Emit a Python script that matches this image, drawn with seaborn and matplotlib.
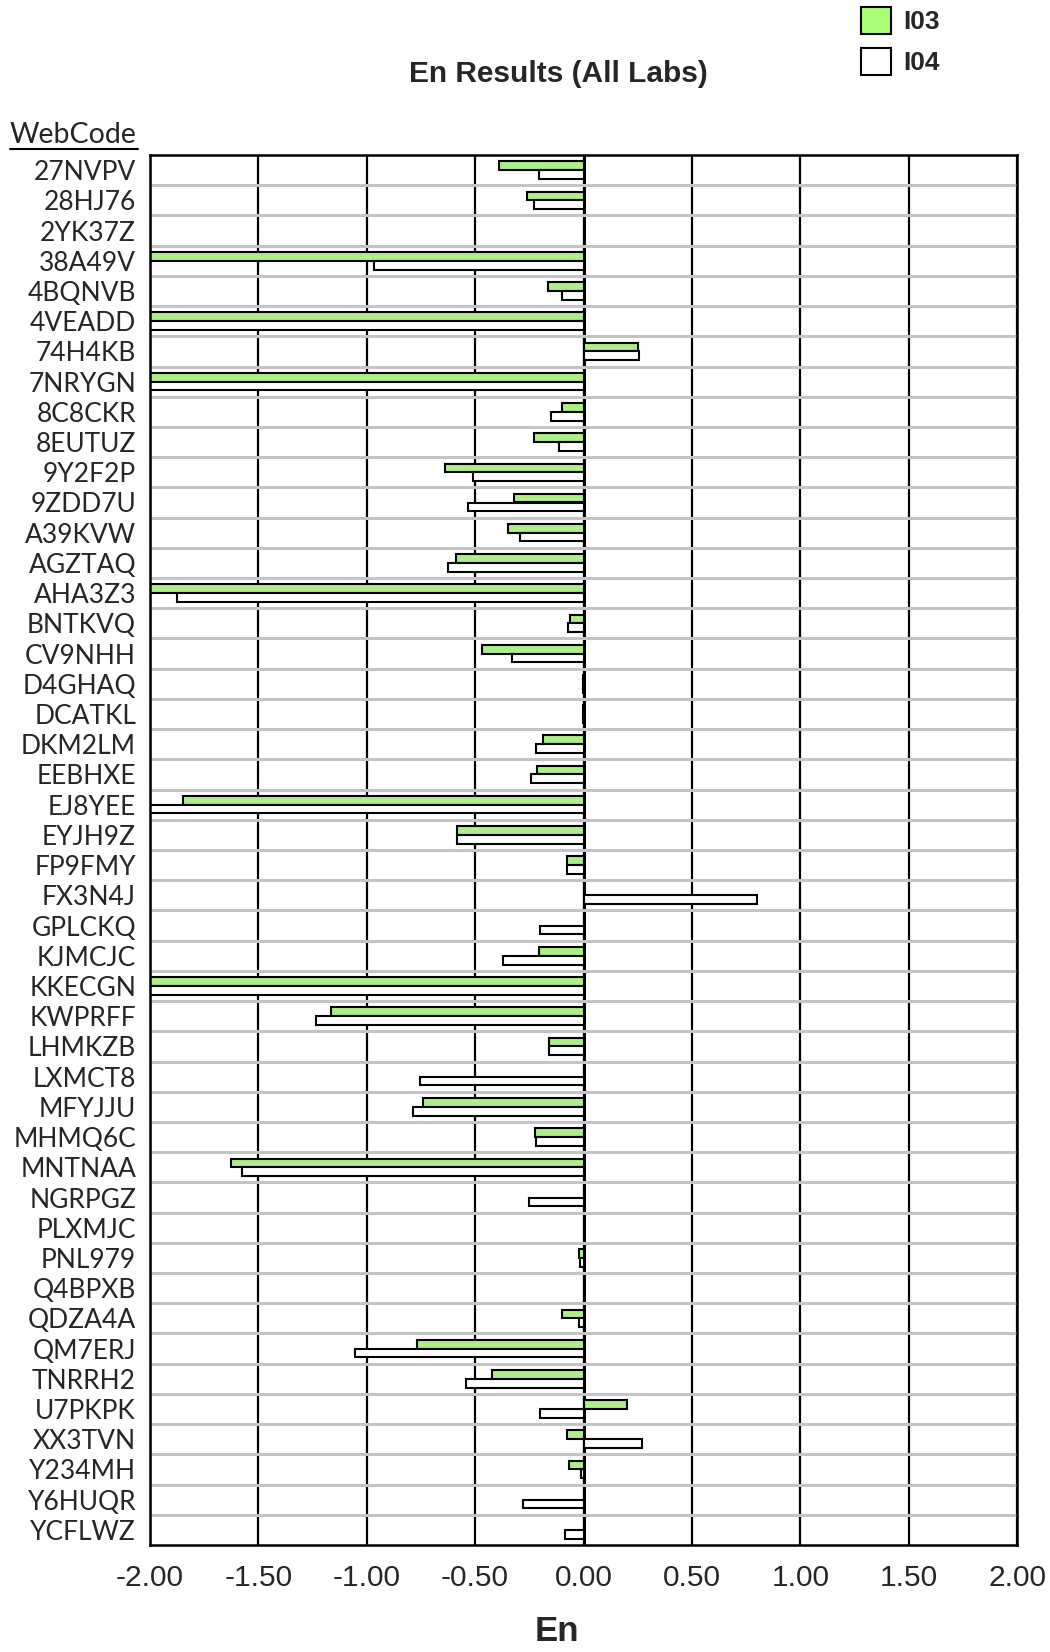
import pandas as pd
import matplotlib
matplotlib.use("Agg")
import matplotlib.pyplot as plt
from matplotlib.patches import Patch
from matplotlib.lines import Line2D
import seaborn as sns

# codes dos laboratórios (ordem do gráfico, de cima para baixo)
webcodes = ["27NVPV", "28HJ76", "2YK37Z", "38A49V", "4BQNVB", "4VEADD", "74H4KB",
            "7NRYGN", "8C8CKR", "8EUTUZ", "9Y2F2P", "9ZDD7U", "A39KVW", "AGZTAQ",
            "AHA3Z3", "BNTKVQ", "CV9NHH", "D4GHAQ", "DCATKL", "DKM2LM", "EEBHXE",
            "EJ8YEE", "EYJH9Z", "FP9FMY", "FX3N4J", "GPLCKQ", "KJMCJC", "KKECGN",
            "KWPRFF", "LHMKZB", "LXMCT8", "MFYJJU", "MHMQ6C", "MNTNAA", "NGRPGZ",
            "PLXMJC", "PNL979", "Q4BPXB", "QDZA4A", "QM7ERJ", "TNRRH2", "U7PKPK",
            "XX3TVN", "Y234MH", "Y6HUQR", "YCFLWZ"]

# valores En (None = sem resultado); valores < -2 ficam cortados no eixo
en_i03 = [-0.39, -0.26, None, -2.8, -0.165, -3.2, 0.25,
          -3.0, -0.10, -0.23, -0.64, -0.32, -0.35, -0.59,
          -2.6, -0.062, -0.47, -0.004, -0.004, -0.185, -0.215,
          -1.85, -0.585, -0.078, None, None, -0.205, -3.1,
          -1.165, -0.157, None, -0.74, -0.225, -1.625, None,
          None, -0.02, None, -0.10, -0.77, -0.42, 0.20,
          -0.078, -0.065, None, None]
en_i04 = [-0.205, -0.23, None, -0.965, -0.10, -3.0, 0.257,
          -2.9, -0.148, -0.112, -0.51, -0.535, -0.295, -0.625,
          -1.875, -0.073, -0.33, -0.004, -0.004, -0.22, -0.24,
          -2.3, -0.585, -0.078, 0.80, -0.20, -0.37, -2.7,
          -1.235, -0.16, -0.755, -0.785, -0.218, -1.575, -0.25,
          None, -0.015, None, -0.02, -1.055, -0.54, -0.20,
          0.268, -0.013, -0.28, -0.085]

xticks = [-2.0, -1.5, -1.0, -0.5, 0.0, 0.5, 1.0, 1.5, 2.0]

df = pd.DataFrame({"WebCode": webcodes * 2,
                   "En": en_i03 + en_i04,
                   "Round": ["I03"] * len(webcodes) + ["I04"] * len(webcodes)})

green = "#aaff77"
palette = {"I03": green, "I04": "white"}

sns.set_style("white")
plt.rcParams["font.family"] = ["Liberation Sans", "DejaVu Sans"]

fig = plt.figure(figsize=(10.5, 16.52), dpi=100)
ax = fig.add_axes([150 / 1050, 1 - 1545 / 1652, 867 / 1050, 1390 / 1652])

sns.barplot(data=df, x="En", y="WebCode", hue="Round", order=webcodes,
            hue_order=["I03", "I04"], palette=palette, orient="h",
            width=0.58, gap=0, edgecolor="black", linewidth=1.5,
            legend=False, ax=ax)

ax.set_xlim(-2, 2)
ax.set_ylim(len(webcodes) - 0.5, -0.5)
ax.set_xticks(xticks)
ax.set_xticklabels([f"{t:.2f}" for t in xticks], fontsize=21.5)
ax.set_yticks(range(len(webcodes)))
ax.set_yticklabels(webcodes, fontsize=19, family=["Lato", "DejaVu Sans"])
ax.set_yticks([i + 0.5 for i in range(len(webcodes) - 1)], minor=True)
ax.tick_params(axis="both", which="both", length=0)
ax.tick_params(axis="x", pad=14)
ax.tick_params(axis="y", pad=10)
ax.set_xlabel("")
ax.set_ylabel("")

# grades: verticais pretas, horizontais cinza entre categorias
ax.xaxis.grid(True, color="black", linewidth=1.6)
ax.yaxis.grid(True, which="minor", color="#c4c4c4", linewidth=2.2)
ax.yaxis.grid(False, which="major")
ax.set_axisbelow(True)
ax.axvline(0, color="black", linewidth=2.2, zorder=0.5)
for s in ax.spines.values():
    s.set_color("black")
    s.set_linewidth(1.8)

fig.text(558 / 1050, 1 - 74 / 1652, "En Results (All Labs)", fontsize=21.5,
         fontweight="bold", ha="center", va="center")
fig.text(557 / 1050, 1 - 1641 / 1652, "En", fontsize=25,
         fontweight="bold", ha="center", va="baseline")
fig.text(10 / 1050, 1 - 135 / 1652, "WebCode", fontsize=20.5,
         family=["Lato", "DejaVu Sans"], ha="left", va="center")
fig.add_artist(Line2D([10 / 1050, 138 / 1050], [1 - 149 / 1652, 1 - 149 / 1652],
                      color="black", linewidth=1.5))

handles = [Patch(facecolor=green, edgecolor="black", linewidth=1.5, label="I03"),
           Patch(facecolor="white", edgecolor="black", linewidth=1.5, label="I04")]
fig.legend(handles=handles, loc="upper left", bbox_to_anchor=(861 / 1050, 1 - 7 / 1652),
           frameon=False, borderpad=0, borderaxespad=0, handlelength=1.15,
           handleheight=1.2, labelspacing=0.5, handletextpad=0.45,
           prop={"weight": "bold", "size": 19})

plt.savefig("out.png", dpi=100)
